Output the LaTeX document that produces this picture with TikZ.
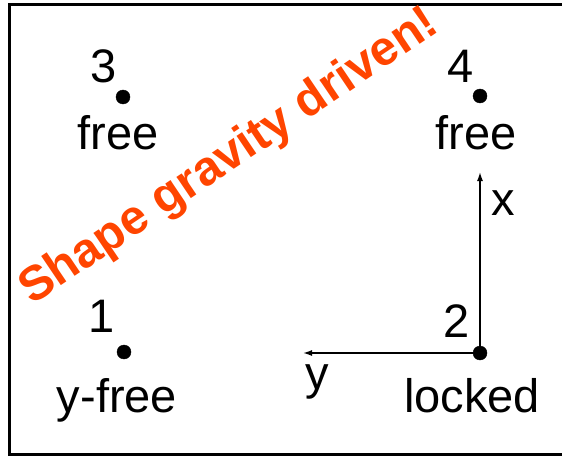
\documentclass[tikz,border=0pt]{standalone}
\usepackage{fontspec}
\setmainfont{Liberation Sans}
\usetikzlibrary{arrows.meta}
\usepackage{xcolor}
\definecolor{gravity}{HTML}{FF4500}

\begin{document}
\begin{tikzpicture}[
  x=1pt,y=1pt,
  pin/.style={draw,circle,fill=black,minimum size=14pt,inner sep=0pt},
  lbl/.style={anchor=base,inner sep=0pt,font=\fontsize{47}{50}\selectfont},
  axis/.style={-{Latex[length=9pt,width=6pt]},line width=1.5pt},
]
  \useasboundingbox (0,0) rectangle (562,456);
  \draw[line width=2.5pt] (566,451.5) -- (9.5,451.5) -- (9.5,1.5) -- (566,1.5);

  % corner points
  \node[pin] (p3) at (123,359) {};
  \node[pin] (p4) at (480,360) {};
  \node[pin] (p1) at (124,104) {};
  \node[pin] (p2) at (480,103) {};

  \node[lbl] (num3) at (104,373) {3};
  \node[lbl] (free3) at (118,306) {free};
  \node[lbl] (num4) at (461,373) {4};
  \node[lbl] (free4) at (476,306) {free};
  \node[lbl] (num1) at (101.5,124) {1};
  \node[lbl] (free1) at (117,44) {y-free};
  \node[lbl] (num2) at (457,119) {2};
  \node[lbl] (lock2) at (472,44) {locked};

  % local axes at point 2
  \coordinate (xend) at (480,284);
  \coordinate (yend) at (303,103);
  \draw[axis] (p2.center) -- (xend);
  \draw[axis] (p2.center) -- (yend);
  \node[lbl] (xlab) at (503,241) {x};
  \node[lbl] (ylab) at (317,67) {y};

  \node[anchor=base west,inner sep=0pt,rotate=34,text=gravity,
        font=\fontsize{48.5}{52}\selectfont\bfseries] (title) at (32,150) {Shape gravity driven!};
\end{tikzpicture}
\end{document}
